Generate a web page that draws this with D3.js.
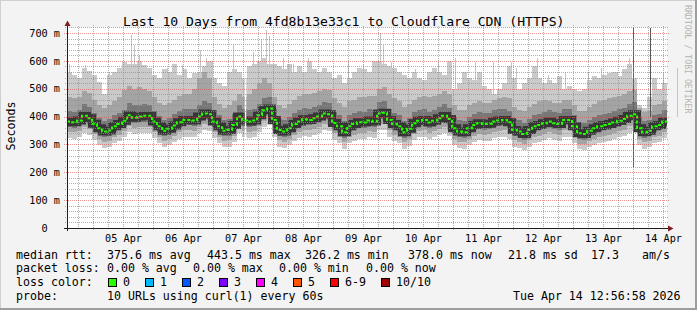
<!DOCTYPE html>
<html>
<head>
<meta charset="utf-8">
<script src="https://cdn.jsdelivr.net/npm/d3@7"></script>
<style>
  body { margin: 0; background: #fff; }
  text { font-family: "DejaVu Sans Mono", monospace; }
</style>
</head>
<body>
<svg id="chart" width="697" height="310"></svg>
<script>
// 10 days of 2-hour buckets, first bucket starts Apr 4 13:36 UTC
var startTime = Date.UTC(2026, 3, 4, 13, 36);
var stepHours = 2;

// median rtt (ms)
var median = [
  382,380,386,403,394,374,358,346,350,365,373,385,405,396,400,403,403,382,365,349,356,368,380,388,
  388,386,400,411,408,382,365,349,352,370,400,386,382,386,405,423,429,388,352,346,358,373,382,390,
  388,394,400,411,408,377,365,344,365,373,380,379,386,382,411,414,388,373,365,344,356,376,385,388,
  379,385,394,403,391,358,346,344,358,370,376,373,374,382,386,388,380,352,346,337,352,365,370,376,
  382,376,373,388,388,365,340,337,349,358,365,370,373,379,385,391,403,408,358,344,349,365,370,382
];
// smoke: outer band (min .. max ping)
var smokeMax = [
  560,550,540,575,565,550,525,480,550,560,575,595,590,590,600,585,575,550,540,570,560,590,550,570,
  540,555,560,580,600,540,520,510,560,570,560,540,580,590,600,610,590,590,580,570,590,560,580,560,
  600,570,560,575,560,540,550,520,540,560,575,570,560,600,600,590,580,575,560,550,540,560,540,530,
  560,575,560,550,600,500,520,560,540,530,560,510,500,480,500,520,580,540,500,520,540,580,540,520,
  530,520,545,500,510,500,490,500,530,545,540,550,555,560,545,570,590,540,440,430,470,540,500,520
];
var smokeMin = [
  322,320,326,342,334,315,298,288,292,306,313,325,345,336,340,342,342,322,305,290,297,309,320,328,
  328,326,340,350,348,322,305,290,292,310,340,326,322,326,344,362,368,328,292,286,298,312,322,330,
  328,334,340,350,348,317,305,285,305,313,320,319,326,322,350,353,328,313,305,285,296,316,325,328,
  319,325,334,342,331,298,286,284,298,310,316,313,314,322,326,328,320,292,286,280,292,305,310,316,
  322,316,313,328,328,305,282,280,292,298,305,310,313,320,325,330,342,348,298,285,290,305,310,322
];
// smoke: middle band
var midHigh = [
  470,465,470,490,485,460,440,430,440,455,470,495,510,500,505,500,490,470,450,440,450,460,475,480,
  480,500,540,560,540,470,445,430,440,455,480,470,480,500,520,540,520,470,440,430,445,460,475,480,
  480,485,490,500,495,465,450,435,455,460,470,470,475,475,500,505,480,465,455,435,445,460,470,475,
  470,475,480,490,480,440,425,425,440,450,455,450,450,460,465,470,465,435,425,420,435,445,455,460,
  455,450,450,460,460,440,420,420,435,445,455,460,465,470,475,480,490,495,430,415,420,440,445,455
];
var midLow = [
  345,343,349,364,356,337,320,309,313,328,335,347,366,358,362,364,364,345,328,312,319,331,343,350,
  350,348,362,372,370,345,328,312,315,332,362,348,345,348,366,384,390,350,315,309,320,335,345,352,
  350,356,362,372,370,340,328,307,328,335,342,341,348,345,372,375,350,335,328,307,318,338,347,350,
  341,347,356,364,353,321,309,307,321,332,338,335,336,345,348,350,342,315,309,300,315,327,332,338,
  345,338,335,350,350,328,303,300,312,320,328,332,335,341,347,353,365,370,320,307,312,328,332,345
];
// smoke: inner band
var innerHigh = [
  420,418,425,445,435,412,395,385,390,405,412,425,448,440,442,444,440,420,402,388,395,408,420,428,
  428,426,442,455,450,422,404,388,392,410,440,426,422,428,446,465,470,428,392,386,398,412,422,430,
  428,434,440,452,448,416,404,384,404,412,420,418,426,422,452,455,428,412,404,384,396,415,425,428,
  418,424,434,444,430,398,386,384,398,410,416,412,414,422,426,428,420,392,386,376,392,405,410,416,
  422,416,412,428,428,404,380,376,388,398,404,410,414,420,426,432,446,452,398,384,388,405,410,422
];
var innerLow = [
  362,360,366,382,374,354,338,326,330,345,352,364,384,376,380,382,382,362,345,329,336,348,360,367,
  368,366,380,390,388,362,345,329,332,350,380,366,362,366,384,402,408,368,332,326,338,352,362,370,
  368,374,380,390,388,357,345,324,345,352,360,359,366,362,390,393,368,352,345,324,336,356,365,368,
  359,365,374,382,371,338,326,324,338,350,356,353,354,362,366,368,360,332,326,317,332,345,350,356,
  362,356,353,368,368,345,320,317,329,338,345,350,353,359,365,371,383,388,338,324,329,345,350,362
];
// tall single-sample max pings (minutes after start, ms)
var streakMinutes = [
  41, 441, 1001, 1321, 1537, 1601, 1721, 1903, 2400, 2544, 2760,
  3192, 3336, 3480, 3986, 4474, 4666, 4786, 4858, 5186, 5426,
  5784, 6744, 7104, 7512, 7584, 7786, 8363,
  8904, 9302, 9782, 10222, 10662, 10782, 11282,
  11544, 11945, 12495, 12807, 13207, 13495, 13575, 14311, 14631
];
var streakTop = [
  590, 585, 561, 597, 693, 657, 621, 585, 573, 590, 585,
  640, 610, 600, 657, 630, 680, 710, 690, 610, 590,
  610, 597, 585, 700, 657, 597, 570,
  597, 609, 597, 597, 597, 573, 609,
  549, 561, 561, 573, 561, 609, 633, 561, 573
];
// single outliers and a missing sample
var spikeTimes = [Date.UTC(2026, 3, 14, 0, 0), Date.UTC(2026, 3, 14, 6, 48)];
var spikeTop = [718, 718];
var spikeBottom = [219, 400];
var gapTimes = [Date.UTC(2026, 3, 7, 12, 48)];

var yTicks = [0, 100, 200, 300, 400, 500, 600, 700];
var yTickLabels = ["0  ", "100 m", "200 m", "300 m", "400 m", "500 m", "600 m", "700 m"];
var xTickLabels = ["05 Apr", "06 Apr", "07 Apr", "08 Apr", "09 Apr", "10 Apr", "11 Apr", "12 Apr", "13 Apr", "14 Apr"];

var rttStats = ["375.6 ms avg", "443.5 ms max", "326.2 ms min", "378.0 ms now", "21.8 ms sd", "17.3", "am/s"];
var lossStats = ["0.00 % avg", "0.00 % max", "0.00 % min", "0.00 % now"];
var lossLabels = ["0", "1", "2", "3", "4", "5", "6-9", "10/10"];
var lossColors = ["#26ff00", "#00b8ff", "#0059ff", "#7e00ff", "#ff00ff", "#ff5500", "#ff0000", "#a10000"];
var probeText = "10 URLs using curl(1) every 60s";
var stampText = "Tue Apr 14 12:56:58 2026";

// ---------------------------------------------------------------
var width = 697, height = 310;
var hour = 3600e3;
var times = median.map((d, i) => new Date(startTime + i * stepHours * hour));
var endTime = new Date(startTime + median.length * stepHours * hour);

var x = d3.scaleUtc().domain([new Date(startTime), endTime]).range([67, 667]);
var y = d3.scaleLinear().domain([0, 720]).range([228, 27.4]);

var svg = d3.select("#chart");

// frame
svg.append("rect").attr("width", width).attr("height", height).attr("fill", "#f3f3f3");
svg.append("path").attr("d", `M0,${height}V0H${width}`).attr("fill", "none")
  .attr("stroke", "#cfcfcf").attr("stroke-width", 2);
svg.append("path").attr("d", `M0,${height - 1}H${width - 1}V0`).attr("fill", "none")
  .attr("stroke", "#9e9e9e").attr("stroke-width", 2);

// canvas
svg.append("rect").attr("x", 67).attr("y", y(720)).attr("width", 600).attr("height", y(0) - y(720))
  .attr("fill", "#fff");

// tall streaks sit behind the bands
svg.selectAll(".streak").data(streakMinutes).join("line")
  .attr("class", "streak")
  .attr("x1", d => Math.round(x(new Date(startTime + d * 60e3))) + 0.5)
  .attr("x2", d => Math.round(x(new Date(startTime + d * 60e3))) + 0.5)
  .attr("y1", (d, i) => y(streakTop[i])).attr("y2", y(400))
  .attr("stroke", "#c4c4c4").attr("stroke-width", 1).attr("shape-rendering", "crispEdges");

// smoke bands
function band(lo, hi, color) {
  var pts = lo.map((d, i) => ({ t: times[i], lo: d, hi: hi[i] }));
  pts.push({ t: endTime, lo: lo[lo.length - 1], hi: hi[hi.length - 1] });
  svg.append("path")
    .datum(pts)
    .attr("fill", color)
    .attr("shape-rendering", "crispEdges")
    .attr("d", d3.area().curve(d3.curveStepAfter)
      .x(d => x(d.t)).y0(d => y(d.lo)).y1(d => y(d.hi)));
}
band(smokeMin, smokeMax, "#cacaca");
band(midLow, midHigh, "#a4a4a4");
band(innerLow, innerHigh, "#777");

var medPts = median.map((d, i) => ({ t: times[i], v: d }));
medPts.push({ t: endTime, v: median[median.length - 1] });
var medLine = d3.line().curve(d3.curveStepAfter).x(d => x(d.t)).y(d => y(d.v));

svg.append("path").datum(medPts).attr("d", medLine)
  .attr("fill", "none").attr("stroke", "#363636").attr("stroke-width", 8);

svg.selectAll(".spike").data(spikeTimes).join("line")
  .attr("class", "spike")
  .attr("x1", d => Math.round(x(d)) + 0.5).attr("x2", d => Math.round(x(d)) + 0.5)
  .attr("y1", (d, i) => y(spikeTop[i])).attr("y2", (d, i) => y(spikeBottom[i]))
  .attr("stroke", "#555").attr("stroke-width", 1).attr("shape-rendering", "crispEdges");

svg.selectAll(".gap").data(gapTimes).join("line")
  .attr("class", "gap")
  .attr("x1", d => Math.round(x(d)) + 0.5).attr("x2", d => Math.round(x(d)) + 0.5)
  .attr("y1", y(720)).attr("y2", y(0))
  .attr("stroke", "#fff").attr("stroke-width", 1.5);

svg.append("path").datum(medPts).attr("d", medLine)
  .attr("fill", "none").attr("stroke", "#26ff00").attr("stroke-width", 2)
  .attr("stroke-dasharray", "3,2");

// grid
var grid = svg.append("g").attr("shape-rendering", "crispEdges").attr("fill", "none");
var minorGrid = "rgba(143,143,143,0.7)", majorGrid = "rgba(222,79,79,0.6)";

d3.utcHour.every(6).range(new Date(startTime), endTime).forEach(t => {
  var isDay = t.getUTCHours() === 0;
  var px = Math.round(x(t)) + 0.5;
  grid.append("line").attr("x1", px).attr("x2", px)
    .attr("y1", isDay ? 25 : 26).attr("y2", isDay ? 231 : 230)
    .attr("stroke", isDay ? majorGrid : minorGrid).attr("stroke-dasharray", "1,1");
});
d3.range(20, 721, 20).forEach(v => {
  var isMajor = v % 100 === 0;
  var py = Math.round(y(v)) + 0.5;
  grid.append("line").attr("x1", isMajor ? 64 : 65).attr("x2", isMajor ? 670 : 669)
    .attr("y1", py).attr("y2", py)
    .attr("stroke", isMajor ? majorGrid : minorGrid).attr("stroke-dasharray", "1,1");
});

// axes lines and arrows
svg.append("line").attr("x1", 64).attr("x2", 669).attr("y1", 228.5).attr("y2", 228.5)
  .attr("stroke", "#1f1f1f").attr("shape-rendering", "crispEdges");
svg.append("line").attr("x1", 67.5).attr("x2", 67.5).attr("y1", 231).attr("y2", 25)
  .attr("stroke", "#1f1f1f").attr("shape-rendering", "crispEdges");
svg.append("path").attr("d", "M668,225.5L673.5,228.5L668,231.5Z").attr("fill", "#801f1f");
svg.append("path").attr("d", "M64.5,26L67.5,20.5L70.5,26Z").attr("fill", "#801f1f");

// tick labels via d3 axes
var yAxis = svg.append("g").attr("transform", "translate(67,0)")
  .call(d3.axisLeft(y).tickValues(yTicks).tickFormat((d, i) => yTickLabels[i]).tickSize(0).tickPadding(7));
yAxis.select(".domain").remove();
yAxis.selectAll("text").style("white-space", "pre")
  .attr("font-family", "DejaVu Sans Mono").attr("font-size", 10.2).attr("fill", "#000");

var noons = xTickLabels.map((d, i) => new Date(Date.UTC(2026, 3, 5 + i, 12)));
var xAxis = svg.append("g").attr("transform", "translate(0,228)")
  .call(d3.axisBottom(x).tickValues(noons).tickFormat((d, i) => xTickLabels[i]).tickSize(0).tickPadding(6.8));
xAxis.select(".domain").remove();
xAxis.selectAll("text").attr("font-family", "DejaVu Sans Mono").attr("font-size", 10.2).attr("fill", "#000");

// title and labels
svg.append("text").attr("x", 123).attr("y", 26.3).attr("font-size", 13.1)
  .text("Last 10 Days from 4fd8b13e33c1 to Cloudflare CDN (HTTPS)");
svg.append("text").attr("transform", "translate(15.3,126) rotate(-90)")
  .attr("text-anchor", "middle").attr("font-size", 11.6).text("Seconds");
svg.append("text").attr("transform", "translate(685,5) rotate(90)")
  .attr("font-size", 8.2).attr("fill", "#b4b4b4").text("RRDTOOL / TOBI OETIKER");

// legend
var leg = svg.append("g").attr("font-size", 11.6);
var rowY = [258.5, 272.3, 286.1, 299.9];
var rttX = [107, 207, 305, 408, 508, 591, 642];
var lossX = [107, 193, 279, 366];
var swatchX = [108, 145, 182, 219, 256, 293, 330, 381];

leg.append("text").attr("x", 16).attr("y", rowY[0]).text("median rtt:");
leg.selectAll(".rtt").data(rttStats).join("text").attr("class", "rtt")
  .attr("x", (d, i) => rttX[i]).attr("y", rowY[0]).text(d => d);

leg.append("text").attr("x", 16).attr("y", rowY[1]).text("packet loss:");
leg.selectAll(".loss").data(lossStats).join("text").attr("class", "loss")
  .attr("x", (d, i) => lossX[i]).attr("y", rowY[1]).text(d => d);

leg.append("text").attr("x", 16).attr("y", rowY[2]).text("loss color:");
leg.selectAll(".sw").data(lossColors).join("rect").attr("class", "sw")
  .attr("x", (d, i) => swatchX[i] + 0.5).attr("y", 278.5).attr("width", 8).attr("height", 8)
  .attr("fill", d => d).attr("stroke", "#000").attr("stroke-width", 1);
leg.selectAll(".swl").data(lossLabels).join("text").attr("class", "swl")
  .attr("x", (d, i) => swatchX[i] + 15).attr("y", rowY[2]).text(d => d);

leg.append("text").attr("x", 16).attr("y", rowY[3]).text("probe:");
leg.append("text").attr("x", 107).attr("y", rowY[3]).text(probeText);
leg.append("text").attr("x", 513).attr("y", rowY[3]).text(stampText);
</script>
</body>
</html>
